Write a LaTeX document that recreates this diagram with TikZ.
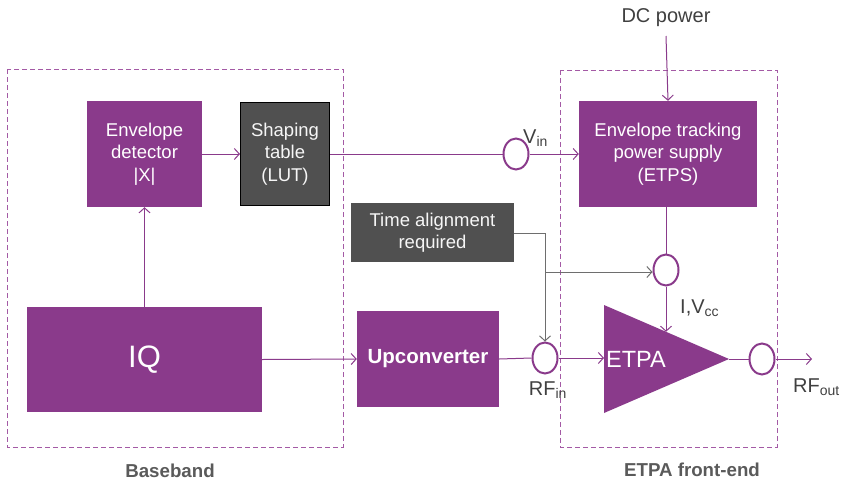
\documentclass[tikz,border=0pt]{standalone}
\usepackage{fontspec}
\setmainfont{Liberation Sans}
\usetikzlibrary{arrows.meta,shapes.geometric}
\definecolor{pur}{HTML}{8A3A8B}
\definecolor{dpur}{HTML}{A45AA5}
\definecolor{gbox}{HTML}{505050}
\definecolor{gline}{HTML}{6E6E6E}
\definecolor{gtext}{HTML}{404040}
\definecolor{ltext}{HTML}{5A5A5A}
\tikzset{
  pbox/.style={fill=pur, text=white, align=center, inner sep=0pt, font=\fontsize{18.5}{22.5}\selectfont},
  gboxs/.style={fill=gbox, text=white!93!gray, align=center, inner sep=0pt, font=\fontsize{18.5}{22.5}\selectfont},
  ring/.style={ellipse, draw=pur, line width=2pt, minimum width=25pt, minimum height=31pt, inner sep=0pt},
  pline/.style={draw=pur, line width=1pt},
  parr/.style={pline, -{Straight Barb[length=5pt,width=11pt]}},
  garr/.style={draw=gline, line width=1pt, -{Straight Barb[length=5pt,width=11pt]}},
  frame/.style={draw=dpur, line width=1pt, dash pattern=on 5pt off 3pt},
  lbl/.style={text=gtext, font=\fontsize{20}{24}\selectfont, inner sep=0pt},
  grp/.style={text=ltext, font=\bfseries\fontsize{18.7}{22}\selectfont, inner sep=0pt}
}
\begin{document}
\begin{tikzpicture}[x=1pt,y=-1pt]
\useasboundingbox (0,0) rectangle (843,482);
% frames
\draw[frame] (7,69) rectangle (343,447);
\draw[frame] (560,70) rectangle (777,447);
\node[grp] (bb) at (170,471) {Baseband};
\node[grp] (fe) at (692,470) {ETPA front-end};
% boxes
\node[pbox, minimum width=115pt, minimum height=106pt] (env) at (144.5,154) {Envelope\\detector\\|X|};
\node[gboxs, draw=black, line width=1pt, minimum width=89pt, minimum height=103pt] (lut) at (285,154) {Shaping\\table\\(LUT)};
\node[pbox, minimum width=235pt, minimum height=105pt, font=\fontsize{31}{36}\selectfont] (iq) at (144.5,359.5) {IQ};
\node[pbox, minimum width=142pt, minimum height=96pt, font=\bfseries\fontsize{20.5}{24}\selectfont] (up) at (428,359) {Upconverter};
\node[gboxs, minimum width=163pt, minimum height=59pt] (ta) at (432.5,232.5) {Time alignment\\required};
\node[pbox, minimum width=178pt, minimum height=106pt] (etps) at (668,154) {Envelope tracking\\power supply\\(ETPS)};
% PA triangle
\coordinate (ta1) at (604,305);
\coordinate (apex) at (729,359);
\coordinate (ta2) at (604,413);
\fill[pur] (ta1) -- (apex) -- (ta2) -- cycle;
\node[text=white, font=\fontsize{23.5}{26}\selectfont, anchor=west, inner sep=0pt] (pa) at (606,359) {ETPA};
\coordinate (patop) at (666,331.8);
% rings
\node[ring] (vin) at (516,154) {};
\node[ring] (rfin) at (545,358) {};
\node[ring] (vcc) at (666,270) {};
\node[ring] (rout) at (762,359) {};
% labels
\node[lbl] (dc) at (666,18) {DC power};
\node[lbl, anchor=base west] (vinl) at (523,143) {V\textsubscript{in}};
\node[lbl, anchor=base] (rfinl) at (548,395) {RF\textsubscript{in}};
\node[lbl, anchor=base west] (vccl) at (680,313) {I,V\textsubscript{cc}};
\node[lbl, anchor=base west] (routl) at (793,392) {RF\textsubscript{out}};
\coordinate (dctop) at (666,36);
\coordinate (routend) at (812,359);
% connectors
\draw[parr] (iq.north) -- (env.south);
\draw[parr] (env.east) -- (lut.west);
\draw[pline] (lut.east) -- (vin.west);
\draw[parr] (vin.east) -- (etps.west);
\draw[parr] (dctop) -- (etps.north);
\draw[parr] (iq.east) -- (up.west);
\draw[pline] (up.east) -- (rfin.west);
\draw[parr] (rfin.east) -- (ta1 |- rfin.east);
\draw[pline] (etps.south -| vcc.north) -- (vcc.north);
\draw[parr] (vcc.south) -- (patop);
\draw[pline] (apex) -- (rout.west);
\draw[parr] (rout.east) -- (routend);
\coordinate (tcor) at (545,233);
\coordinate (tbr) at (545,272);
\draw[garr] (ta.east |- tcor) -- (tcor) -- (rfin.north);
\draw[garr] (tbr) -- (vcc.west |- tbr);
\end{tikzpicture}
\end{document}
